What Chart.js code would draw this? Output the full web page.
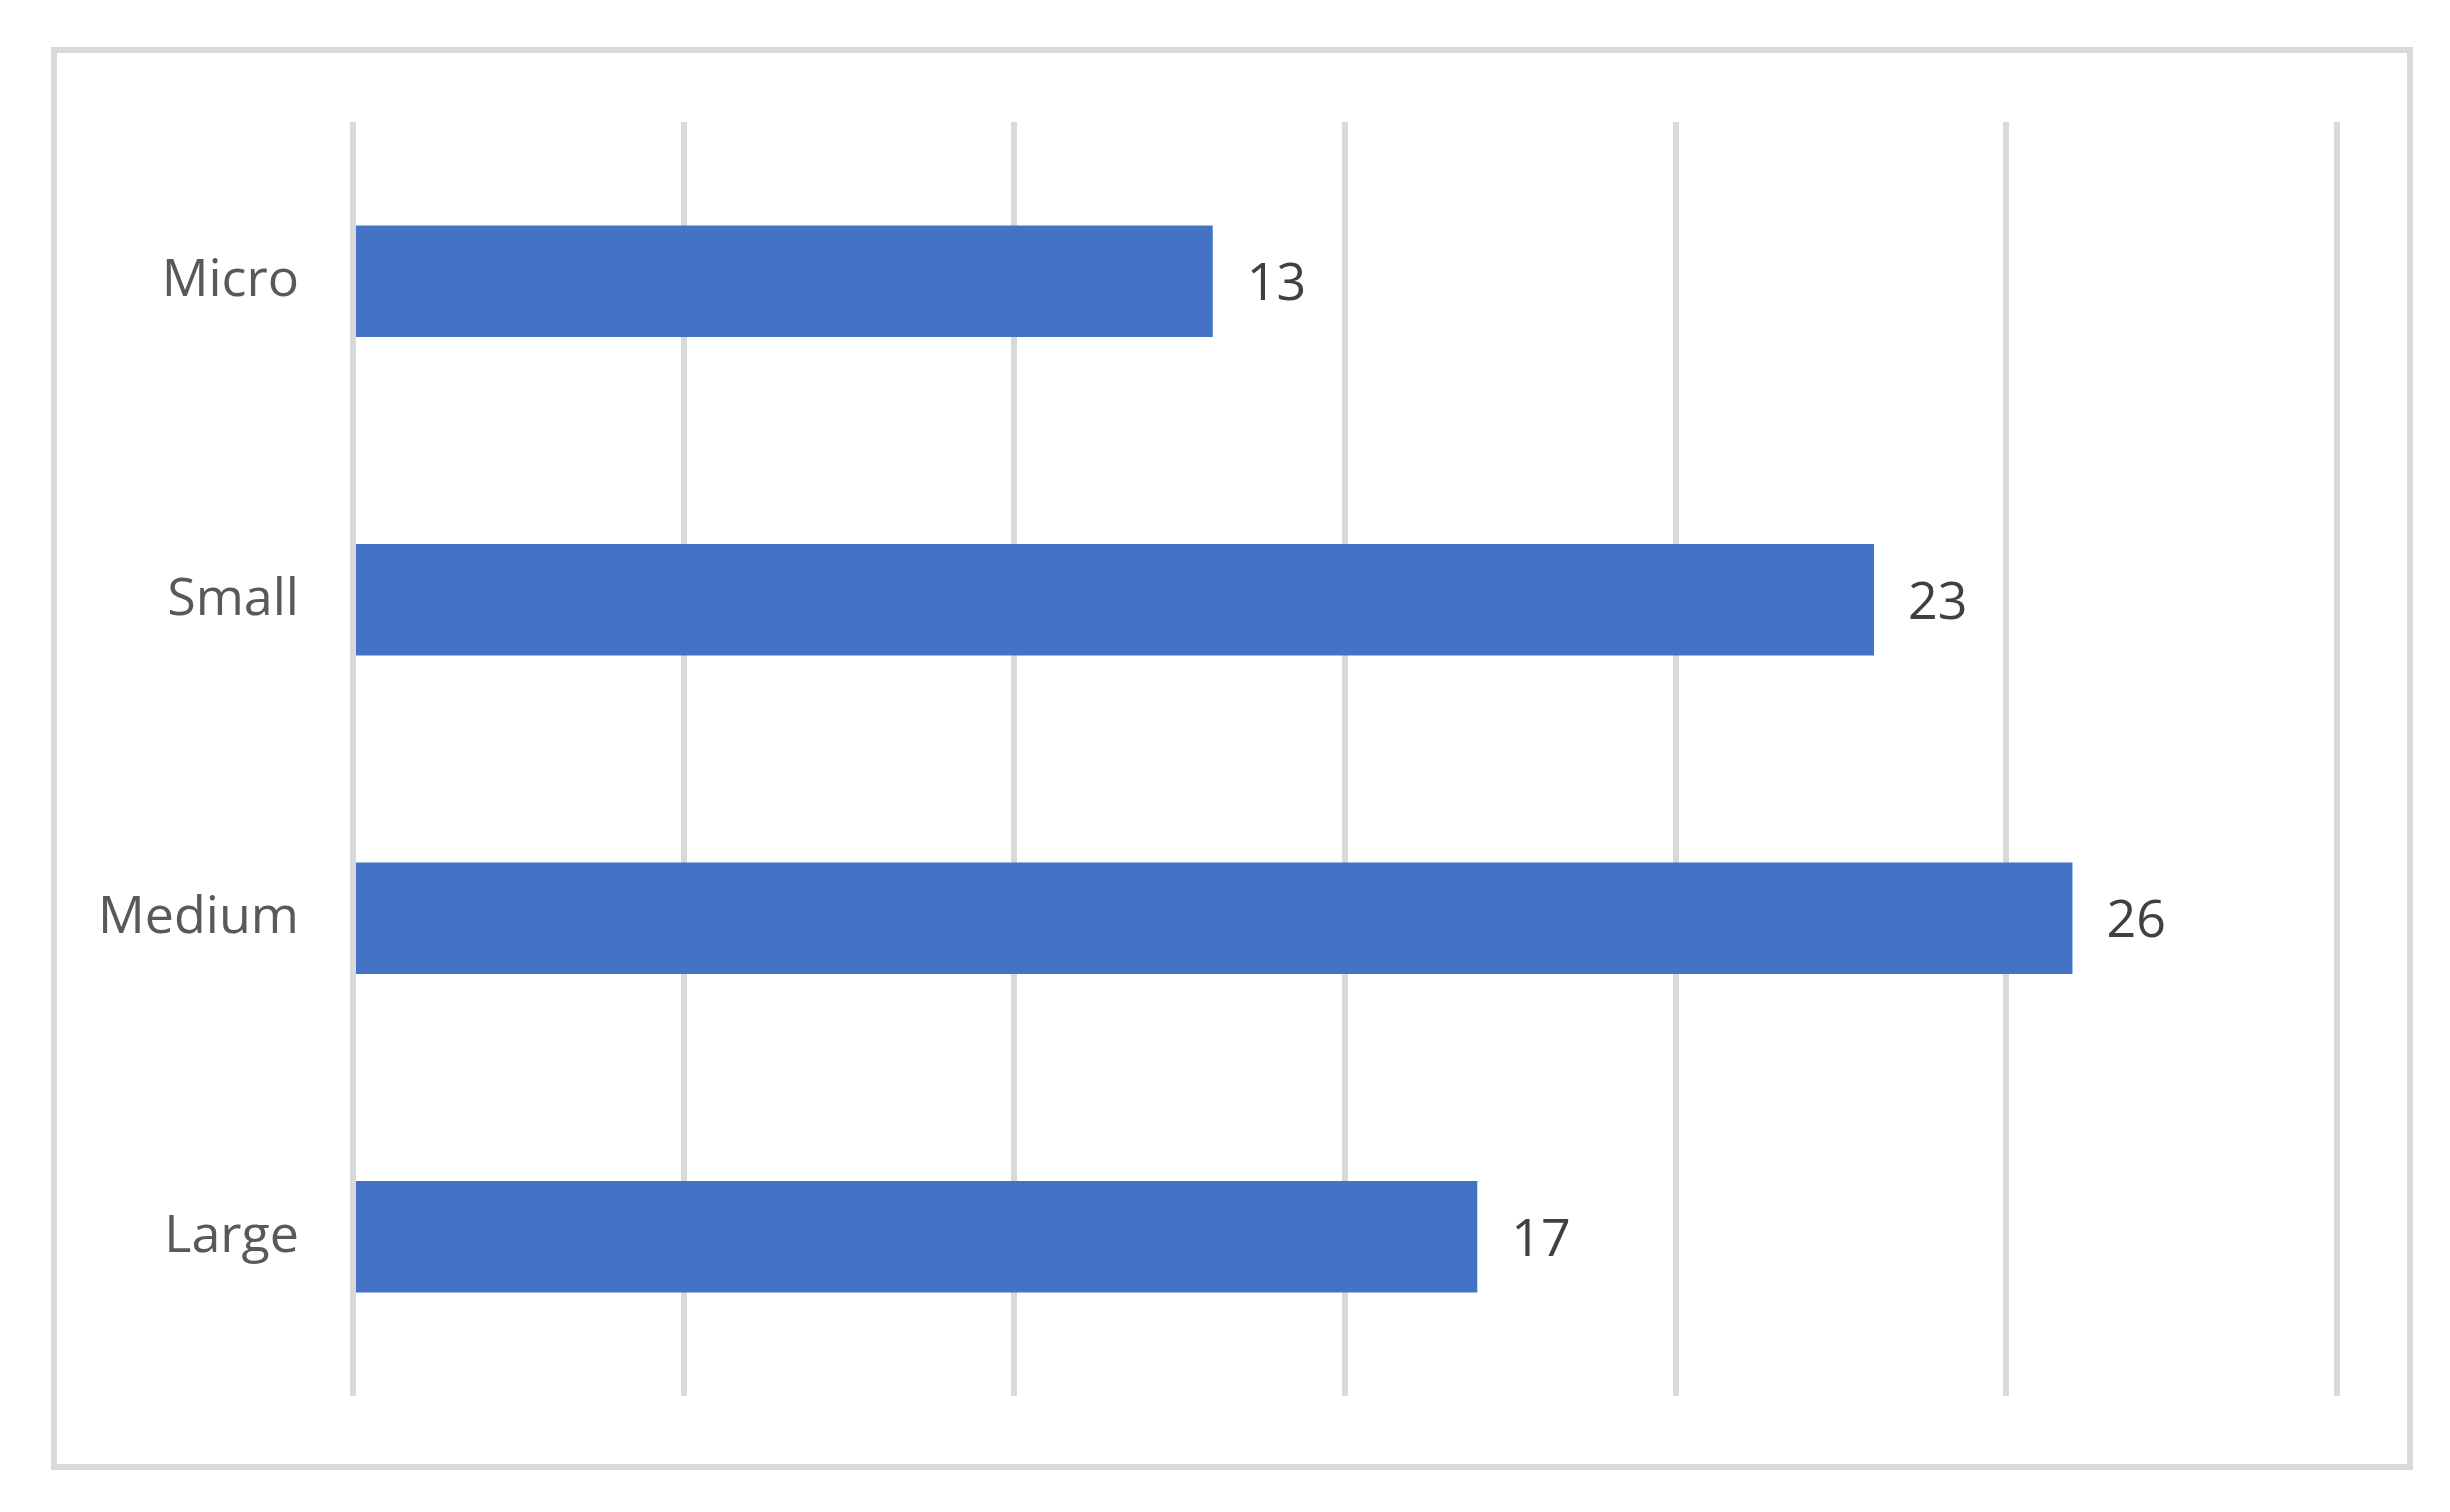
<!DOCTYPE html>
<html>
<head>
<meta charset="utf-8">
<script src="https://cdn.jsdelivr.net/npm/chart.js@4"></script>
<style>
  html, body { margin: 0; padding: 0; background: #fff; }
  #wrap { position: relative; width: 2450px; height: 1512px; }
  #frame {
    position: absolute; left: 51px; top: 47px;
    width: 2350px; height: 1411px;
    border: 6px solid #d9d9d9;
  }
  #chart { position: absolute; left: 0; top: 0; }
</style>
</head>
<body>
<div id="wrap">
  <div id="frame"></div>
  <canvas id="chart" width="2450" height="1512"></canvas>
</div>
<script>
// Dados
const categories = ['Micro', 'Small', 'Medium', 'Large'];
const values = [13, 23, 26, 17];
const xMin = 0;
const xMax = 30;
const xStep = 5;

const FONT = "'Open Sans', 'Noto Sans', Arial, sans-serif";

// Rótulos de valor à direita de cada barra
const valueLabels = {
  id: 'valueLabels',
  afterDatasetsDraw(chart) {
    const ctx = chart.ctx;
    const meta = chart.getDatasetMeta(0);
    ctx.save();
    ctx.font = '52px ' + FONT;
    ctx.fillStyle = '#404040';
    ctx.textAlign = 'left';
    ctx.textBaseline = 'middle';
    meta.data.forEach((bar, i) => {
      ctx.fillText(String(chart.data.datasets[0].data[i]), bar.x + 34, bar.y + 4);
    });
    ctx.restore();
  }
};

new Chart(document.getElementById('chart').getContext('2d'), {
  type: 'bar',
  data: {
    labels: categories,
    datasets: [{
      data: values,
      backgroundColor: '#4472C4',
      borderWidth: 0,
      categoryPercentage: 0.7,
      barPercentage: 0.5,
    }]
  },
  options: {
    indexAxis: 'y',
    responsive: false,
    animation: false,
    layout: { padding: { top: 122, bottom: 116, right: 113, left: 0 } },
    plugins: {
      legend: { display: false },
      tooltip: { enabled: false }
    },
    scales: {
      x: {
        min: xMin,
        max: xMax,
        ticks: { display: false, stepSize: xStep },
        grid: { color: '#d9d9d9', lineWidth: 6, drawTicks: false },
        border: { display: false }
      },
      y: {
        grid: { display: false },
        border: { display: false },
        ticks: {
          color: '#595959',
          padding: 46,
          font: { family: FONT, size: 52 }
        },
        afterFit(scale) { scale.width = 353; }
      }
    }
  },
  plugins: [valueLabels]
});
</script>
</body>
</html>
